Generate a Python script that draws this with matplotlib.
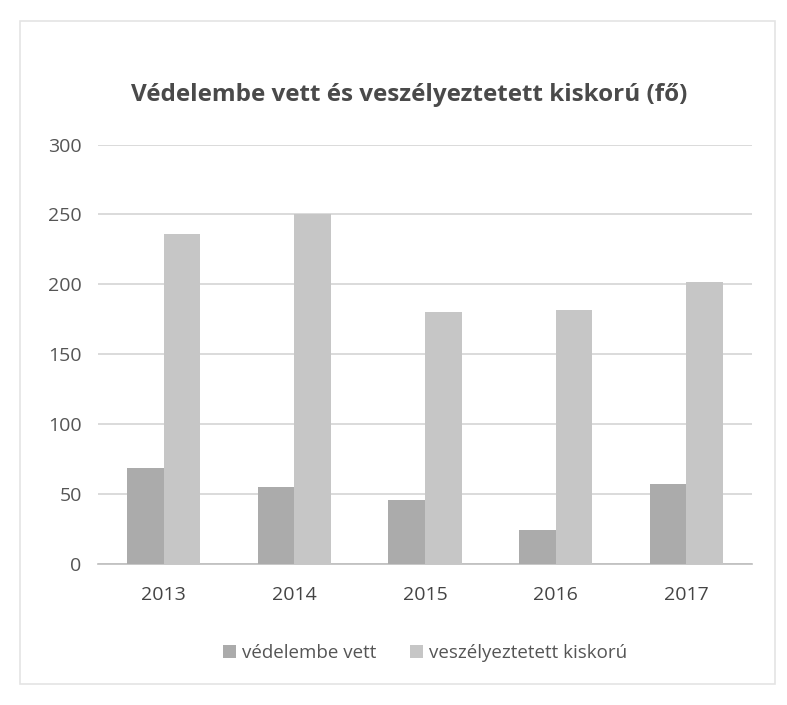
import matplotlib
matplotlib.use("Agg")
import matplotlib.pyplot as plt
from matplotlib.patches import Rectangle
import numpy as np

years = ["2013", "2014", "2015", "2016", "2017"]
vedelembe_vett = [69, 55, 46, 24, 57]
veszelyeztetett = [236, 250, 180, 182, 202]
series_names = ["védelembe vett", "veszélyeztetett kiskorú"]
y_ticks = [0, 50, 100, 150, 200, 250, 300]

plt.rcParams['font.family'] = ['Open Sans', 'DejaVu Sans']

fig = plt.figure(figsize=(7.87, 7.05), dpi=100)
ax = fig.add_axes([0.125, 0.20, 0.83, 0.595])

x = np.arange(len(years))
w = 0.28
ax.bar(x - w / 2, vedelembe_vett, width=w, color="#ababab", label=series_names[0], zorder=3)
ax.bar(x + w / 2, veszelyeztetett, width=w, color="#c6c6c6", label=series_names[1], zorder=3)

ax.set_xlim(-0.5, len(years) - 0.5)
ax.set_ylim(0, 300)
ax.set_yticks(y_ticks)
ax.set_yticklabels([str(t) for t in y_ticks], fontsize=14, color="#555555")
ax.set_xticks(x)
ax.set_xticklabels(years, fontsize=14, color="#444444")
ax.tick_params(axis="y", length=0, pad=12)
ax.tick_params(axis="x", length=0, pad=16)
ax.grid(axis="y", color="#d4d4d4", linewidth=1.2, zorder=0)
for s in ["top", "right", "left"]:
    ax.spines[s].set_visible(False)
ax.spines["bottom"].set_color("#bdbdbd")
ax.spines["bottom"].set_linewidth(1.2)

fig.text(0.52, 0.865, "Védelembe vett és veszélyeztetett kiskorú (fő)",
         ha="center", va="center", fontsize=17.5, fontweight="bold", color="#4a4a4a")

leg = ax.legend(loc="upper center", bbox_to_anchor=(0.5, -0.15), ncol=2, frameon=False,
                fontsize=13.5, handlelength=0.7, handleheight=0.7, handletextpad=0.3,
                columnspacing=1.8)
for t in leg.get_texts():
    t.set_color("#555555")

fig.patches.append(Rectangle((0.025, 0.03), 0.96, 0.94, transform=fig.transFigure,
                             fill=False, edgecolor="#e4e4e4", linewidth=1.2))

fig.savefig("out.png", dpi=100, facecolor="white")
